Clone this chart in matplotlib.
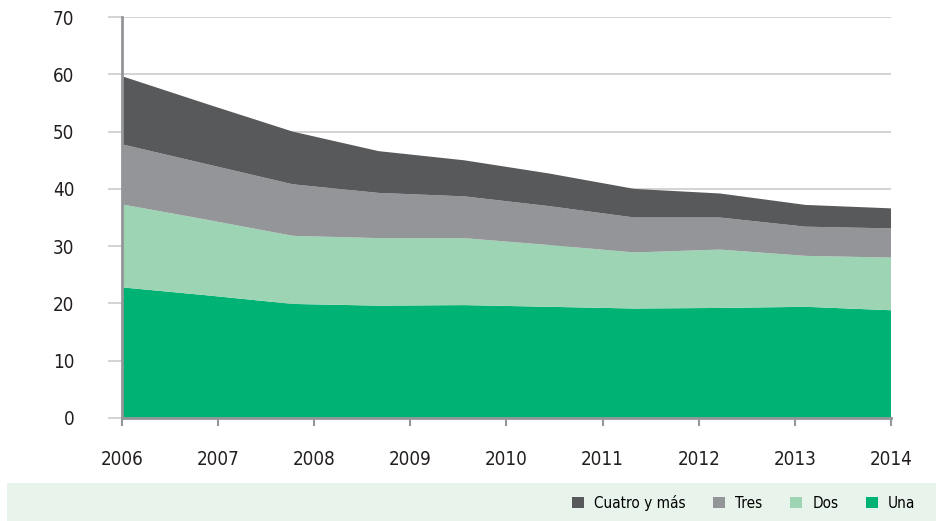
import matplotlib.pyplot as plt
from matplotlib.patches import Rectangle, Patch

plt.rcParams['font.family'] = ['DejaVu Sans']
plt.rcParams['font.stretch'] = 'condensed'

# posiciones de los puntos (el eje va de 2006 a 2014)
x = [2006.0, 2006.89, 2007.78, 2008.67, 2009.56, 2010.44, 2011.33, 2012.22, 2013.11, 2014.0]

una = [22.8, 21.4, 19.9, 19.6, 19.7, 19.4, 19.1, 19.2, 19.4, 18.8]
dos = [14.5, 13.2, 11.9, 11.8, 11.7, 10.8, 9.8, 10.2, 8.9, 9.2]
tres = [10.5, 9.7, 9.0, 7.9, 7.3, 6.8, 6.1, 5.6, 5.1, 5.1]
cuatro = [11.9, 10.5, 9.2, 7.3, 6.3, 5.7, 5.0, 4.2, 3.8, 3.5]

labels = ["Una", "Dos", "Tres", "Cuatro y más"]
colors = ["#00b274", "#9dd4b3", "#939598", "#58595b"]
years = [2006, 2007, 2008, 2009, 2010, 2011, 2012, 2013, 2014]

fig = plt.figure(figsize=(9.37, 5.21), dpi=100)
ax = fig.add_axes([0.130, 0.198, 0.821, 0.769])

ax.stackplot(x, una, dos, tres, cuatro, colors=colors, linewidth=0, zorder=2)

ax.set_xlim(2006, 2014)
ax.set_ylim(0, 70)
ax.set_yticks(range(0, 71, 10))
ax.set_xticks(years)
ax.grid(axis='y', color='#cccccc', linewidth=1.2, zorder=1)
ax.set_axisbelow(True)

for s in ['top', 'right']:
    ax.spines[s].set_visible(False)
ax.spines['left'].set_color('#939598')
ax.spines['left'].set_linewidth(2)
ax.spines['bottom'].set_color('#939598')
ax.spines['bottom'].set_linewidth(2)
ax.spines['left'].set_zorder(3)

ax.tick_params(axis='y', length=10, width=1.2, color='#cccccc', pad=24,
               labelsize=13.5, labelcolor='#231f20')
ax.tick_params(axis='x', length=6, width=1.5, color='#939598', pad=17,
               labelsize=13.5, labelcolor='#231f20')

# banda de la leyenda
fig.patches.append(Rectangle((7 / 937, 0), 930 / 937, 38 / 521,
                             transform=fig.transFigure, facecolor='#e8f3eb',
                             edgecolor='none', zorder=0))

handles = [Patch(facecolor=c, edgecolor='none') for c in colors]
order = [3, 2, 1, 0]
fig.legend([handles[i] for i in order], [labels[i] for i in order],
           loc='center right', bbox_to_anchor=(0.977, 0.035), ncol=4,
           frameon=False, fontsize=11, handlelength=0.8, handleheight=0.8,
           handletextpad=0.65, columnspacing=1.8, borderpad=0,
           borderaxespad=0)

fig.savefig('out.png', dpi=100)
